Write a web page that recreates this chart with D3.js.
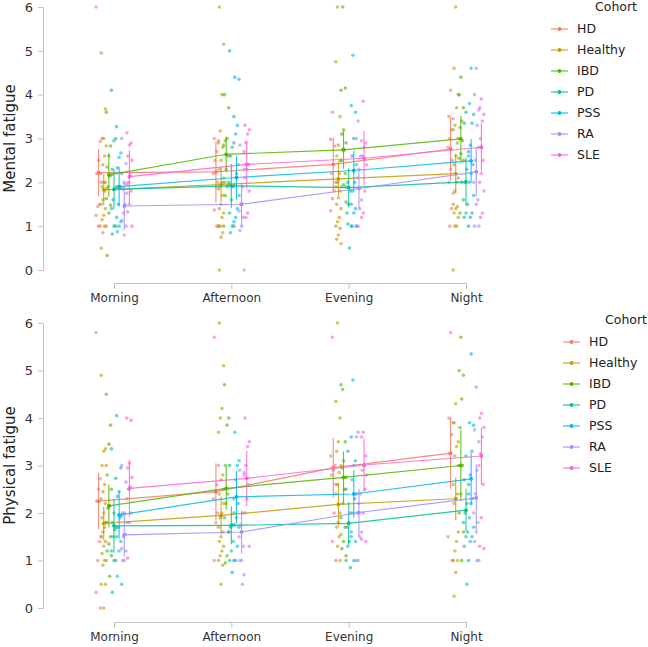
<!DOCTYPE html>
<html>
<head>
<meta charset="utf-8">
<script src="https://d3js.org/d3.v7.min.js"></script>
<style>
  body { margin: 0; background: #fff; }
  text { font-family: "DejaVu Sans", sans-serif; }
</style>
</head>
<body>
<svg width="648" height="647" id="chart"></svg>
<script>
var cohorts = ["HD", "Healthy", "IBD", "PD", "PSS", "RA", "SLE"];
var times = ["Morning", "Afternoon", "Evening", "Night"];
var colors = ["#F8766D", "#C49A00", "#53B400", "#00C094", "#00B6EB", "#A58AFF", "#FB61D7"];
var yTicks = [0, 1, 2, 3, 4, 5, 6];

// means per cohort, Morning..Night
var mentalMean = [
  [2.22, 2.24, 2.41, 2.76],
  [1.83, 1.95, 2.08, 2.20],
  [2.17, 2.64, 2.74, 2.99],
  [1.84, 1.92, 1.88, 2.01],
  [1.90, 2.11, 2.27, 2.49],
  [1.46, 1.50, 1.86, 2.24],
  [2.13, 2.41, 2.55, 2.80]
];
var mentalErr = [
  [0.54, 0.70, 0.60, 0.72],
  [0.35, 0.40, 0.40, 0.45],
  [0.50, 0.40, 0.43, 0.53],
  [0.45, 0.50, 0.45, 0.55],
  [0.45, 0.50, 0.45, 0.50],
  [0.55, 0.50, 0.45, 0.55],
  [0.60, 0.55, 0.62, 0.55]
];
var physicalMean = [
  [2.25, 2.45, 2.95, 3.26],
  [1.78, 1.95, 2.18, 2.30],
  [2.15, 2.52, 2.75, 3.00],
  [1.73, 1.74, 1.78, 2.06],
  [1.96, 2.34, 2.40, 2.72],
  [1.54, 1.60, 2.01, 2.32],
  [2.52, 2.73, 3.01, 3.20]
];
var physicalErr = [
  [0.59, 0.60, 0.63, 0.75],
  [0.35, 0.40, 0.45, 0.45],
  [0.45, 0.45, 0.55, 0.75],
  [0.56, 0.40, 0.45, 0.45],
  [0.50, 0.55, 0.50, 0.55],
  [0.45, 0.45, 0.50, 0.70],
  [0.60, 0.58, 0.56, 0.60]
];

// individual responses [cohort][time]
var mentalPoints = [
  [[6, 2.93, 2.5, 2.2, 2.0, 1.5, 1.45, 1.25, 1.0, 1.0],
   [3.0, 2.95, 2.7, 2.5, 2.2, 2.0, 1.9, 1.37, 1.0, 1.0],
   [3.6, 2.98, 2.83, 2.4, 2.2, 2.0, 1.8, 1.63, 1.35],
   [4.1, 3.5, 3.45, 3.2, 3.0, 2.8, 2.5, 2.3, 2.0, 1.75, 1.4, 1.0]],
  [[4.95, 3.67, 3.0, 3.0, 2.83, 2.6, 2.4, 2.2, 2.0, 2.0, 1.9, 1.85, 1.8, 1.6, 1.5, 1.4, 1.25, 1.15, 1.0, 1.0, 0.85, 0.5],
   [6, 5.15, 4.0, 3.17, 2.9, 2.8, 2.5, 2.3, 2.1, 2.0, 1.9, 1.85, 1.7, 1.5, 1.4, 1.3, 1.2, 1.0, 1.0, 0.85, 0.75, 0.0],
   [6, 4.75, 3.5, 2.85, 2.6, 2.5, 2.2, 2.0, 1.9, 1.8, 1.65, 1.5, 1.4, 1.2, 1.1, 1.0, 0.95, 0.8, 0.7, 0.6],
   [6, 4.6, 4.0, 3.7, 3.3, 3.2, 2.9, 2.6, 2.4, 2.1, 2.0, 1.8, 1.5, 1.45, 1.4, 1.3, 1.2, 1.0, 1.0, 0.0]],
  [[3.6, 2.83, 2.6, 2.35, 2.17, 2.15, 1.9, 1.63, 1.48, 1.3, 0.33],
   [4.0, 3.7, 3.0, 2.95, 2.85, 2.6, 2.3, 2.0, 1.95, 1.9, 1.7, 1.0],
   [6.0, 4.1, 4.15, 3.2, 3.1, 2.9, 2.75, 2.75, 2.5, 2.2, 1.95, 1.9, 1.55],
   [4.4, 4.0, 3.7, 3.4, 3.25, 3.0, 2.95, 2.65, 2.55, 2.5, 2.0, 1.3]],
  [[4.1, 3.0, 2.95, 2.3, 1.9, 1.85, 1.6, 1.4, 1.0, 1.0, 0.82],
   [5.0, 3.5, 2.8, 2.6, 2.0, 1.9, 1.6, 1.3, 1.0, 1.0, 0.85],
   [2.0, 1.9, 1.8, 1.5, 1.3, 1.0, 0.5, 1.05],
   [3.6, 3.35, 2.7, 2.3, 2.0, 1.6, 1.5, 1.3, 1.2, 1.0]],
  [[3.27, 2.67, 2.57, 2.33, 2.2, 1.9, 1.5, 1.2, 1.1, 1.0, 0.87],
   [4.4, 4.35, 3.3, 3.1, 2.9, 2.4, 2.2, 1.95, 1.7, 1.4, 1.2, 1.1],
   [4.9, 3.75, 3.6, 3.0, 2.6, 2.4, 2.0, 1.8, 1.5, 1.4, 1.3, 1.0, 1.0],
   [4.6, 3.8, 3.55, 3.35, 2.85, 2.6, 2.4, 2.2, 2.0, 1.7, 1.3, 1.2]],
  [[3.0, 2.43, 2.0, 1.85, 1.75, 1.5, 1.3, 1.13, 1.0, 0.8],
   [2.85, 2.3, 1.9, 1.5, 1.35, 1.2, 1.0, 0.9, 0.0],
   [3.4, 3.0, 2.6, 2.3, 2.1, 1.6, 1.4, 1.0, 1.0],
   [4.6, 4.0, 3.65, 3.3, 2.5, 2.0, 1.6, 1.5, 1.0, 1.0]],
  [[3.13, 2.9, 2.85, 2.6, 2.5, 2.17, 2.0, 1.95, 1.8, 1.5, 1.33, 1.0],
   [3.3, 3.2, 3.1, 2.9, 2.7, 2.4, 2.3, 2.1, 1.8, 1.3, 1.2],
   [3.85, 2.95, 2.9, 2.8, 2.6, 2.4, 1.8, 1.3, 1.2],
   [3.9, 3.7, 3.55, 3.4, 3.0, 2.8, 2.5, 2.2, 2.0, 1.8, 1.3, 1.2]]
];
var physicalPoints = [
  [[5.8, 2.72, 2.5, 2.25, 1.5, 1.4, 1.0, 0.33, 0.0],
   [5.7, 3.0, 2.6, 2.45, 2.3, 2.0, 1.8, 1.0],
   [5.7, 3.2, 3.0, 2.9, 2.8, 2.6, 2.0, 1.4],
   [5.8, 4.0, 3.9, 3.65, 3.25, 1.5, 1.0]],
  [[4.9, 3.35, 3.3, 3.0, 3.0, 2.6, 2.45, 2.3, 2.2, 2.0, 1.9, 1.8, 1.7, 1.6, 1.5, 1.4, 1.3, 1.15, 1.0, 1.0, 0.9, 0.5, 0.5, 0.0],
   [6.0, 5.1, 4.2, 4.0, 3.7, 2.8, 2.7, 2.4, 2.2, 2.0, 1.9, 1.7, 1.6, 1.5, 1.4, 1.3, 1.2, 1.1, 1.0, 0.9, 0.5],
   [6.0, 4.35, 4.0, 3.5, 3.3, 3.0, 2.85, 2.6, 2.4, 2.0, 1.8, 1.7, 1.55, 1.5, 1.3, 1.0, 1.0],
   [4.3, 3.9, 3.5, 3.4, 3.2, 2.6, 2.4, 2.3, 2.2, 1.6, 1.4, 1.2, 1.0, 1.0, 0.75, 0.25]],
  [[4.5, 3.85, 3.45, 2.8, 2.5, 2.15, 2.1, 1.8, 1.5, 1.35, 1.2, 1.1, 0.67],
   [4.7, 4.0, 3.85, 3.0, 2.5, 2.4, 2.2, 1.9, 1.6, 1.1, 0.95],
   [4.6, 4.7, 3.5, 3.1, 2.95, 2.75, 2.5, 2.2, 1.9, 1.7, 1.4, 1.25, 1.1],
   [5.7, 5.0, 4.9, 4.4, 3.8, 3.0, 3.0, 2.4, 2.0, 1.6, 1.0]],
  [[3.35, 2.73, 2.0, 1.8, 1.7, 1.65, 1.5, 1.2, 1.0, 1.0, 0.33],
   [3.0, 2.0, 1.75, 1.7, 1.6, 1.4, 1.2, 1.0, 1.0, 0.75],
   [3.3, 2.5, 2.0, 1.8, 1.7, 1.5, 1.4, 1.3, 1.0, 0.85],
   [3.2, 2.7, 2.4, 2.2, 2.0, 1.8, 1.6, 1.5, 1.3, 1.0, 0.5]],
  [[4.05, 2.95, 2.45, 2.35, 1.95, 1.9, 1.7, 1.5, 1.4, 1.2, 0.67, 0.5],
   [3.7, 3.1, 3.0, 2.7, 2.3, 2.2, 1.9, 1.75, 1.7, 1.3, 1.0],
   [4.8, 3.6, 3.1, 3.0, 2.7, 2.4, 2.3, 2.0, 1.6, 1.4, 1.0],
   [5.35, 3.9, 3.85, 3.3, 2.8, 2.6, 2.3, 2.2, 1.9, 1.7, 1.5, 1.4]],
  [[3.0, 2.65, 2.0, 2.0, 1.8, 1.55, 1.5, 1.25, 1.2, 1.0, 1.0],
   [2.9, 2.85, 2.0, 1.75, 1.5, 1.3, 1.0, 1.0, 0.7, 0.5],
   [3.7, 3.6, 2.4, 2.2, 2.0, 1.6, 1.5, 1.0, 1.0],
   [4.65, 3.75, 3.5, 2.9, 2.4, 2.0, 1.8, 1.6, 1.4, 1.0, 1.0]],
  [[4.0, 3.95, 3.05, 2.95, 2.75, 2.55, 2.5, 2.3, 2.0, 1.8, 1.05],
   [4.0, 3.5, 3.4, 3.0, 2.8, 2.6, 2.3, 2.0, 1.3],
   [3.7, 3.6, 3.2, 3.0, 2.9, 2.8, 2.5, 2.0, 1.45, 1.4],
   [4.1, 4.0, 3.8, 3.6, 3.25, 3.0, 2.6, 1.9, 1.3, 1.25]]
];

var svg = d3.select("#chart");
var x = d3.scalePoint().domain(times).range([114, 466]);
var dodge = d3.scalePoint().domain(cohorts).range([-15.4, 15.4]);

function drawPanel(cfg) {
  var y = d3.scaleLinear().domain([0, 6]).range([cfg.bottom, cfg.top]);
  var g = svg.append("g");

  // y axis
  var yAxis = g.append("g")
    .attr("transform", "translate(43,0)")
    .call(d3.axisLeft(y).tickValues(yTicks).tickFormat(d3.format("d"))
      .tickSizeOuter(0).tickSize(5).tickPadding(5));
  // x axis (trimmed to first/last category)
  var xAxis = g.append("g")
    .attr("transform", "translate(0," + cfg.xAxisY + ")")
    .call(d3.axisBottom(x).tickSizeOuter(0).tickSize(6).tickPadding(4));
  [yAxis, xAxis].forEach(function(a) {
    a.selectAll("path, line").attr("stroke", "#c2c2c2");
    a.selectAll("text").attr("fill", "#333").style("font-size", "12px");
  });
  yAxis.selectAll("text").style("font-size", "13px");

  g.append("text")
    .attr("transform", "translate(15," + ((cfg.top + cfg.bottom) / 2) + ") rotate(-90)")
    .attr("text-anchor", "middle")
    .style("font-size", "15px")
    .attr("fill", "#222")
    .text(cfg.title);

  // jittered points
  cohorts.forEach(function(c, ci) {
    times.forEach(function(t, ti) {
      var cx = x(t) + dodge(c);
      g.selectAll(null)
        .data(cfg.points[ci][ti])
        .enter().append("circle")
        .attr("cx", function(d, i) { return cx + ((i * 5 + ti) % 7 - 3) * 0.85; })
        .attr("cy", function(d) { return y(d); })
        .attr("r", 1.8)
        .attr("fill", colors[ci])
        .attr("opacity", 0.6);
    });
  });

  // error bars, mean lines, mean dots
  cohorts.forEach(function(c, ci) {
    var line = d3.line()
      .x(function(d, ti) { return x(times[ti]) + dodge(c); })
      .y(function(d) { return y(d); });
    g.append("path")
      .attr("d", line(cfg.mean[ci]))
      .attr("fill", "none")
      .attr("stroke", colors[ci])
      .attr("stroke-width", 1.2)
      .attr("opacity", 0.85);
    cfg.mean[ci].forEach(function(m, ti) {
      var cx = x(times[ti]) + dodge(c);
      g.append("line")
        .attr("x1", cx).attr("x2", cx)
        .attr("y1", y(m - cfg.err[ci][ti]))
        .attr("y2", y(m + cfg.err[ci][ti]))
        .attr("stroke", colors[ci])
        .attr("stroke-width", 1.1)
        .attr("opacity", 0.85);
      g.append("circle")
        .attr("cx", cx).attr("cy", y(m))
        .attr("r", 1.9)
        .attr("fill", colors[ci]);
    });
  });

  // legend
  var lg = g.append("g").attr("transform", "translate(" + cfg.legendX + "," + cfg.legendY + ")");
  lg.append("text")
    .attr("x", cfg.titleDx).attr("y", 0).attr("dy", "0.35em")
    .style("font-size", "12.5px").attr("fill", "#222")
    .text("Cohort");
  cohorts.forEach(function(c, ci) {
    var ly = 22 + ci * 21;
    lg.append("line")
      .attr("x1", 0).attr("x2", 17).attr("y1", ly).attr("y2", ly)
      .attr("stroke", colors[ci]).attr("stroke-width", 1.2).attr("opacity", 0.85);
    lg.append("circle").attr("cx", 8.5).attr("cy", ly).attr("r", 1.9).attr("fill", colors[ci]);
    lg.append("text")
      .attr("x", 26).attr("y", ly).attr("dy", "0.35em")
      .style("font-size", "12.5px").attr("fill", "#222")
      .text(c);
  });
}

drawPanel({title: "Mental fatigue", top: 7, bottom: 270, xAxisY: 283,
  mean: mentalMean, err: mentalErr, points: mentalPoints,
  legendX: 551, legendY: 7, titleDx: 44});
drawPanel({title: "Physical fatigue", top: 323, bottom: 608, xAxisY: 622,
  mean: physicalMean, err: physicalErr, points: physicalPoints,
  legendX: 563, legendY: 320, titleDx: 42});
</script>
</body>
</html>
